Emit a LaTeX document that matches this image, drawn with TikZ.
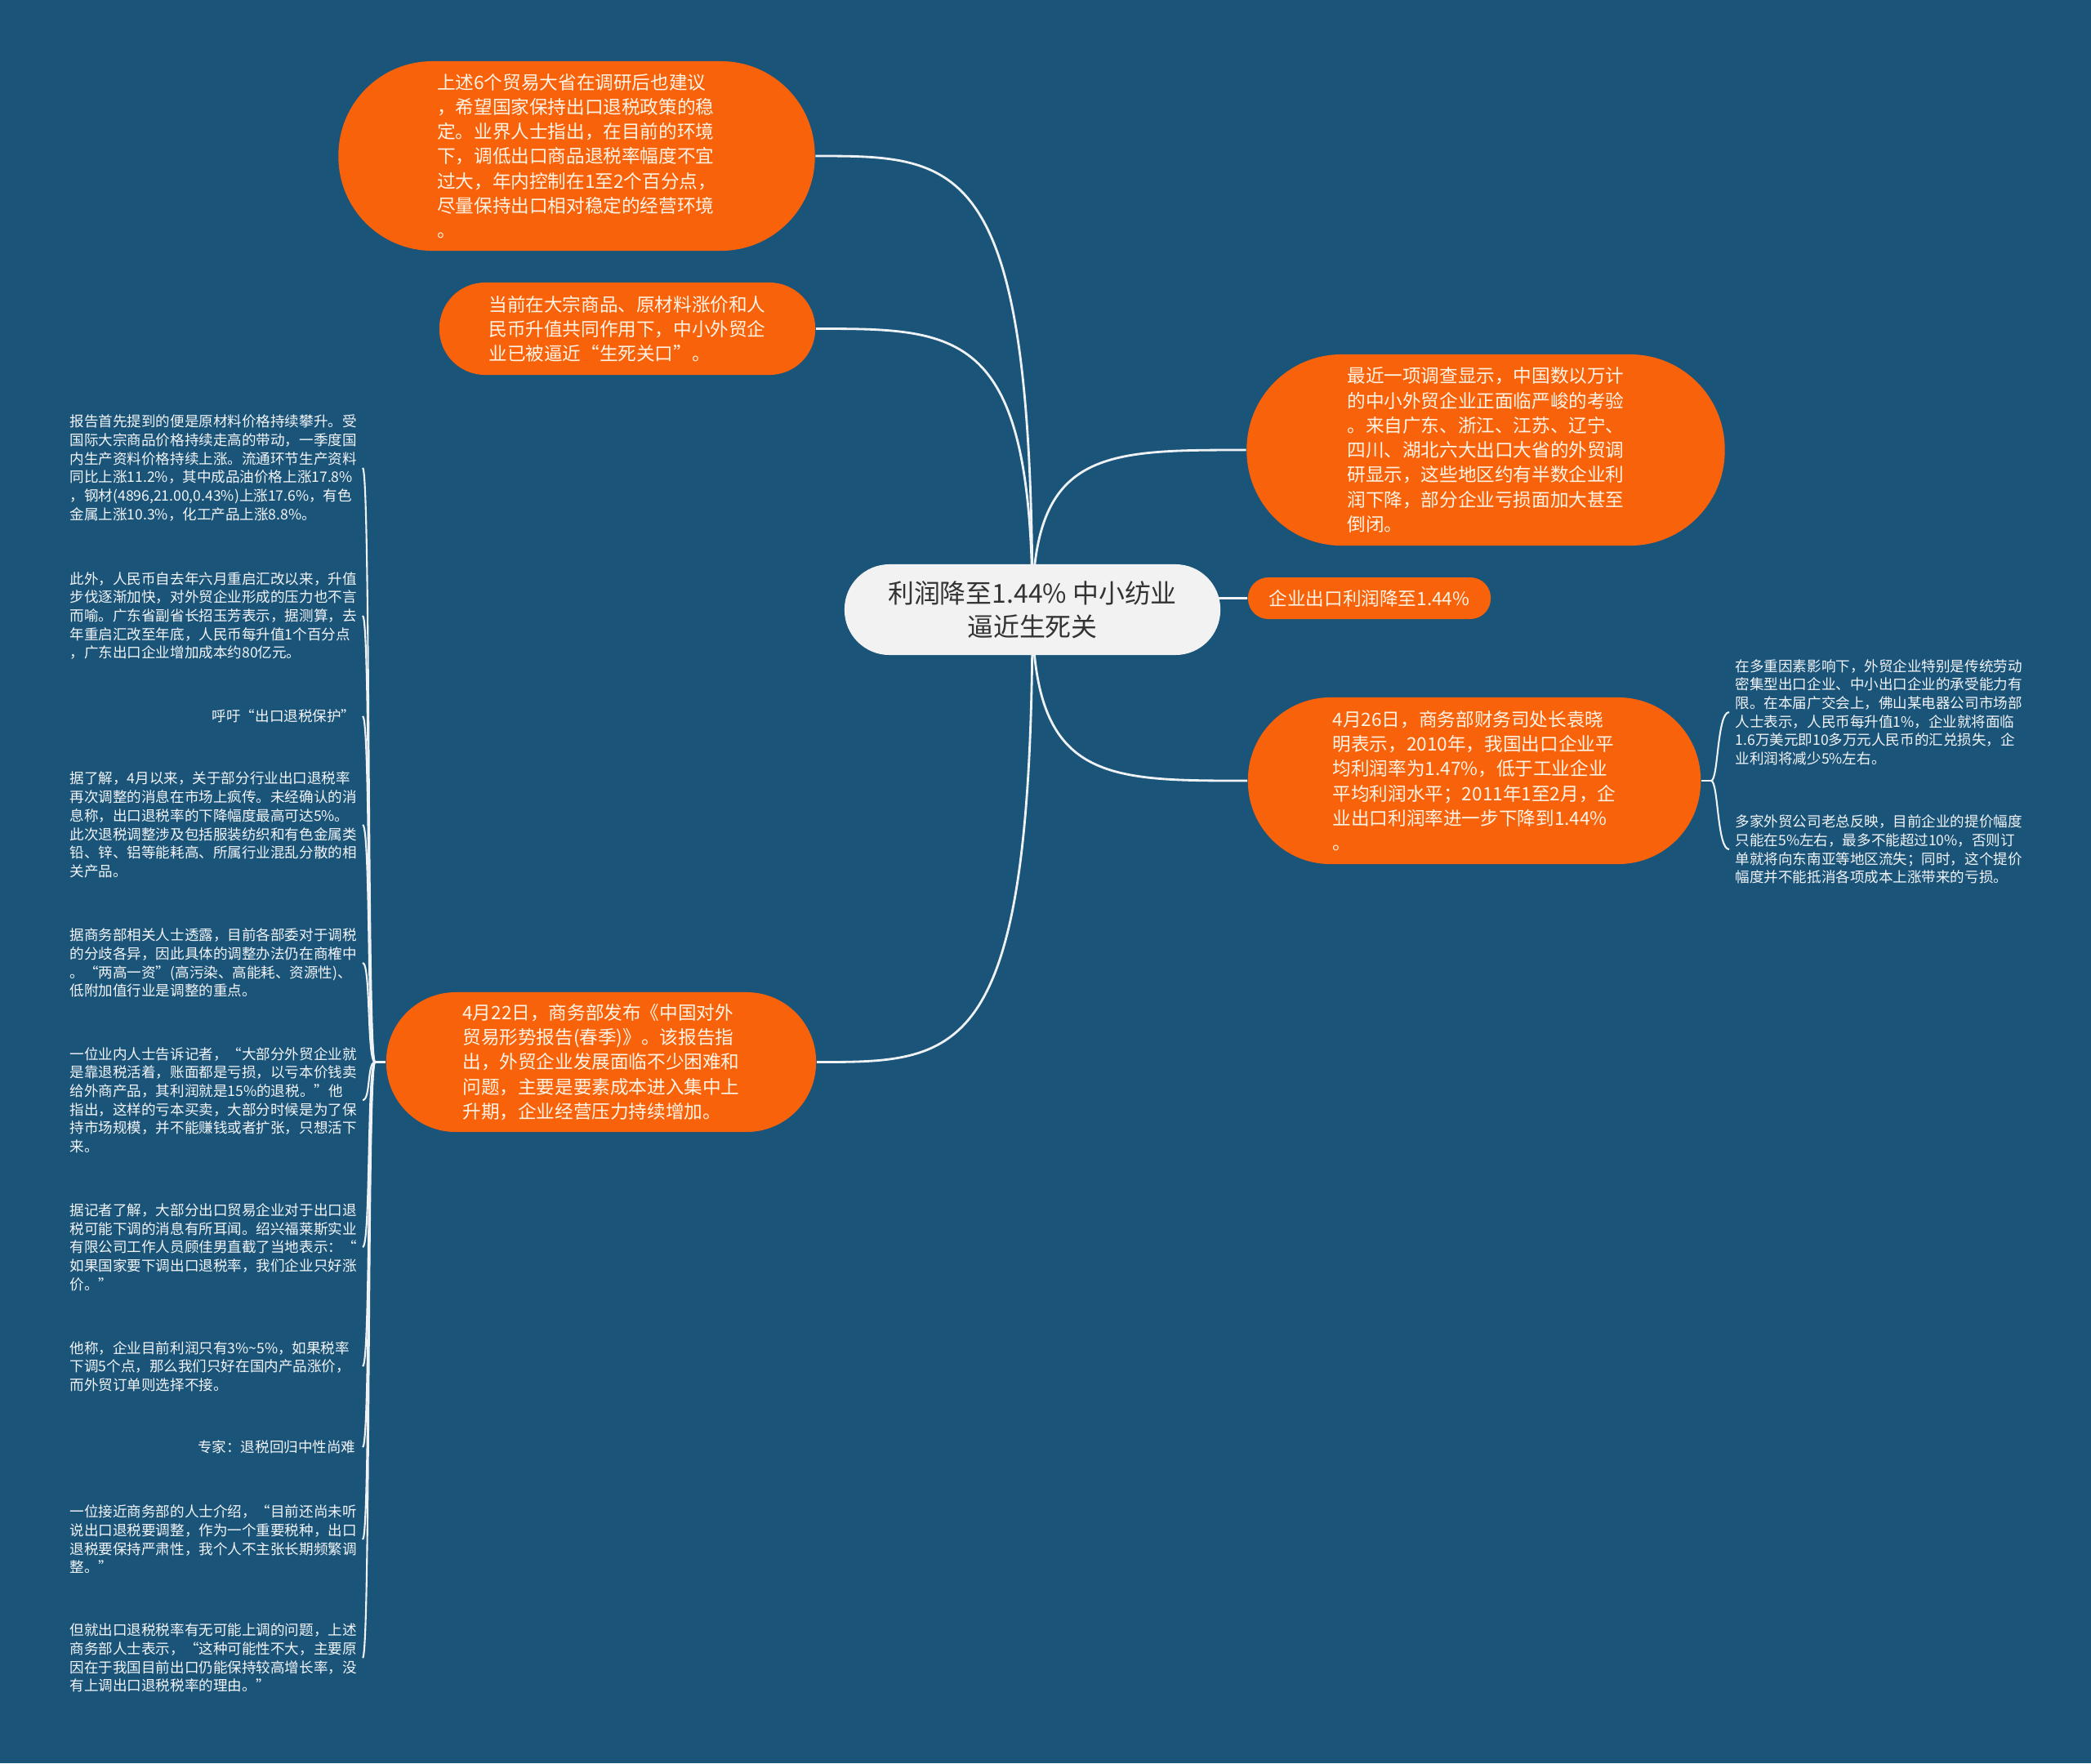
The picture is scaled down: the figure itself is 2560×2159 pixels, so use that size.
\documentclass[tikz,border=0pt]{standalone}
\usepackage{fontspec}
\setmainfont{Noto Sans CJK SC}
\usetikzlibrary{calc}
\definecolor{bgc}{HTML}{1B5479}
\definecolor{orng}{HTML}{F7620A}
\definecolor{otext}{HTML}{FFF4E6}
\definecolor{cfill}{HTML}{F2F2F2}
\definecolor{ctext}{HTML}{333333}
\definecolor{lnc}{HTML}{EEF2F5}
\definecolor{ltext}{HTML}{F2F5F8}
\pgfdeclarelayer{bgl}
\pgfdeclarelayer{conl}
\pgfsetlayers{bgl,conl,main}
\tikzset{
  onode/.style={rectangle, fill=orng, text=otext, font=\fontsize{6.43pt}{8.6pt}\selectfont, align=left, inner sep=0pt},
  cnode/.style={rectangle, fill=cfill, text=ctext, font=\fontsize{9.07pt}{11.6pt}\selectfont, align=center, inner sep=0pt},
  lnode/.style={text=ltext, font=\fontsize{4.99pt}{6.45pt}\selectfont, align=left, inner sep=0pt},
  conn/.style={draw=lnc, line width=0.8pt},
  lconn/.style={draw=lnc, line width=0.6pt}
}
\begin{document}
\begin{tikzpicture}[x=0.01cm,y=-0.01cm]
\begin{pgfonlayer}{bgl}
\fill[bgc] (0,0) rectangle (2560,2159);
\end{pgfonlayer}
\useasboundingbox (0,0) rectangle (2560,2159);

% root
\node[cnode, minimum width=4.60cm, minimum height=1.11cm, rounded corners=0.55cm] (C) at (1264,746.5) {利润降至1.44\% 中小纺业\\逼近生死关};

% orange main nodes
\node[onode, minimum width=5.83cm, minimum height=2.32cm, rounded corners=1.15cm] (n1) at (706,191) {上述6个贸易大省在调研后也建议\\，希望国家保持出口退税政策的稳\\定。业界人士指出，在目前的环境\\下，调低出口商品退税率幅度不宜\\过大，年内控制在1至2个百分点，\\尽量保持出口相对稳定的经营环境\\。};

\node[onode, minimum width=4.60cm, minimum height=1.13cm, rounded corners=0.56cm] (n2) at (768,402.5) {当前在大宗商品、原材料涨价和人\\民币升值共同作用下，中小外贸企\\业已被逼近“生死关口”。};

\node[onode, minimum width=5.85cm, minimum height=2.34cm, rounded corners=1.16cm] (r1) at (1819,551) {最近一项调查显示，中国数以万计\\的中小外贸企业正面临严峻的考验\\。来自广东、浙江、江苏、辽宁、\\四川、湖北六大出口大省的外贸调\\研显示，这些地区约有半数企业利\\润下降，部分企业亏损面加大甚至\\倒闭。};

\node[onode, minimum width=2.97cm, minimum height=0.51cm, rounded corners=0.25cm, align=center] (rs) at (1676.5,732.5) {企业出口利润降至1.44\%};

\node[onode, minimum width=5.54cm, minimum height=2.04cm, rounded corners=1.01cm] (r2) at (1805,956) {4月26日，商务部财务司处长袁晓\\明表示，2010年，我国出口企业平\\均利润率为1.47\%，低于工业企业\\平均利润水平；2011年1至2月，企\\业出口利润率进一步下降到1.44\%\\。};

\node[onode, minimum width=5.26cm, minimum height=1.71cm, rounded corners=0.85cm] (L) at (736,1300.5) {4月22日，商务部发布《中国对外\\贸易形势报告(春季)》。该报告指\\出，外贸企业发展面临不少困难和\\问题，主要是要素成本进入集中上\\升期，企业经营压力持续增加。};

% right leaves
\node[lnode, anchor=west] (rl1) at (2124,872) {在多重因素影响下，外贸企业特别是传统劳动\\密集型出口企业、中小出口企业的承受能力有\\限。在本届广交会上，佛山某电器公司市场部\\人士表示，人民币每升值1\%，企业就将面临\\1.6万美元即10多万元人民币的汇兑损失，企\\业利润将减少5\%左右。};
\node[lnode, anchor=west] (rl2) at (2124,1040) {多家外贸公司老总反映，目前企业的提价幅度\\只能在5\%左右，最多不能超过10\%，否则订\\单就将向东南亚等地区流失；同时，这个提价\\幅度并不能抵消各项成本上涨带来的亏损。};

% left leaves
\node[lnode, anchor=west] (ll1) at (85,573) {报告首先提到的便是原材料价格持续攀升。受\\国际大宗商品价格持续走高的带动，一季度国\\内生产资料价格持续上涨。流通环节生产资料\\同比上涨11.2\%，其中成品油价格上涨17.8\%\\，钢材(4896,21.00,0.43\%)上涨17.6\%，有色\\金属上涨10.3\%，化工产品上涨8.8\%。};
\node[lnode, anchor=west] (ll2) at (85,754) {此外，人民币自去年六月重启汇改以来，升值\\步伐逐渐加快，对外贸企业形成的压力也不言\\而喻。广东省副省长招玉芳表示，据测算，去\\年重启汇改至年底，人民币每升值1个百分点\\，广东出口企业增加成本约80亿元。};
\node[lnode, anchor=east] (ll3) at (436,877) {呼吁“出口退税保护”};
\node[lnode, anchor=west] (ll4) at (85,1010) {据了解，4月以来，关于部分行业出口退税率\\再次调整的消息在市场上疯传。未经确认的消\\息称，出口退税率的下降幅度最高可达5\%。\\此次退税调整涉及包括服装纺织和有色金属类\\铅、锌、铝等能耗高、所属行业混乱分散的相\\关产品。};
\node[lnode, anchor=west] (ll5) at (85,1179) {据商务部相关人士透露，目前各部委对于调税\\的分歧各异，因此具体的调整办法仍在商榷中\\。“两高一资”(高污染、高能耗、资源性)、\\低附加值行业是调整的重点。};
\node[lnode, anchor=west] (ll6) at (85,1347) {一位业内人士告诉记者，“大部分外贸企业就\\是靠退税活着，账面都是亏损，以亏本价钱卖\\给外商产品，其利润就是15\%的退税。”他\\指出，这样的亏本买卖，大部分时候是为了保\\持市场规模，并不能赚钱或者扩张，只想活下\\来。};
\node[lnode, anchor=west] (ll7) at (85,1527) {据记者了解，大部分出口贸易企业对于出口退\\税可能下调的消息有所耳闻。绍兴福莱斯实业\\有限公司工作人员顾佳男直截了当地表示：“\\如果国家要下调出口退税率，我们企业只好涨\\价。”};
\node[lnode, anchor=west] (ll8) at (85,1673) {他称，企业目前利润只有3\%\textasciitilde{}5\%，如果税率\\下调5个点，那么我们只好在国内产品涨价，\\而外贸订单则选择不接。};
\node[lnode, anchor=east] (ll9) at (436,1772) {专家：退税回归中性尚难};
\node[lnode, anchor=west] (ll10) at (85,1885) {一位接近商务部的人士介绍，“目前还尚未听\\说出口退税要调整，作为一个重要税种，出口\\退税要保持严肃性，我个人不主张长期频繁调\\整。”};
\node[lnode, anchor=west] (ll11) at (85,2030) {但就出口退税税率有无可能上调的问题，上述\\商务部人士表示，“这种可能性不大，主要原\\因在于我国目前出口仍能保持较高增长率，没\\有上调出口退税税率的理由。”};

% connectors
\begin{pgfonlayer}{conl}
\foreach \tg/\an in {n1/east, n2/east, L/east, r1/west, r2/west, rs/west}{
  \draw[conn] (C.center) .. controls (C.center |- \tg.\an) and ($(C.center |- \tg.\an)!0.33!(\tg.\an)$) .. (\tg.\an);
}
% left bracket
\coordinate (Lb) at ($(L.west)+(-13,0)$);
\coordinate (Lx) at (444,0);
\draw[lconn] (L.west) -- (Lb);
\foreach \lf in {ll1,ll2,ll3,ll4,ll5,ll6,ll7,ll8,ll9,ll10,ll11}{
  \draw[lconn] (Lb) .. controls ($(Lb)+(-10,0)$) and ($(\lf -| Lx)+(10,0)$) .. (\lf -| Lx);
}
% right bracket
\coordinate (Rb) at ($(r2.east)+(12,0)$);
\coordinate (Rx) at (2117,0);
\draw[lconn] (r2.east) -- (Rb);
\foreach \lf in {rl1,rl2}{
  \draw[lconn] (Rb) .. controls ($(Rb)+(9,0)$) and ($(\lf -| Rx)+(-15,0)$) .. (\lf -| Rx);
}
\end{pgfonlayer}
\end{tikzpicture}
\end{document}
